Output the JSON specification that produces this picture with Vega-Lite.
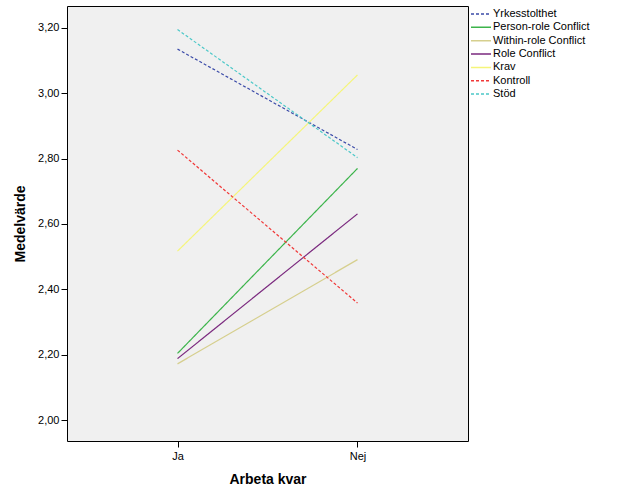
{
  "$schema": "https://vega.github.io/schema/vega-lite/v6.json",
  "width": 401,
  "height": 435,
  "autosize": "none",
  "padding": {"left": 67, "top": 6, "right": 158, "bottom": 60},
  "background": "white",
  "config": {
    "font": "Liberation Sans",
    "view": {"fill": "#F0F0F0", "stroke": "#000000", "strokeWidth": 1},
    "axis": {"grid": false, "domain": false, "tickColor": "#000", "tickSize": 6, "labelColor": "#000", "labelFontSize": 11, "labelFont": "Liberation Sans", "titleFont": "Liberation Sans", "titleFontSize": 14, "titleFontWeight": "bold", "titleColor": "#000"}
  },
  "data": {
    "values": [
      {"grupp": "Ja", "serie": "Yrkesstolthet", "varde": 3.135},
      {"grupp": "Nej", "serie": "Yrkesstolthet", "varde": 2.828},
      {"grupp": "Ja", "serie": "Person-role Conflict", "varde": 2.204},
      {"grupp": "Nej", "serie": "Person-role Conflict", "varde": 2.770},
      {"grupp": "Ja", "serie": "Within-role Conflict", "varde": 2.172},
      {"grupp": "Nej", "serie": "Within-role Conflict", "varde": 2.491},
      {"grupp": "Ja", "serie": "Role Conflict", "varde": 2.188},
      {"grupp": "Nej", "serie": "Role Conflict", "varde": 2.631},
      {"grupp": "Ja", "serie": "Krav", "varde": 2.517},
      {"grupp": "Nej", "serie": "Krav", "varde": 3.056},
      {"grupp": "Ja", "serie": "Kontroll", "varde": 2.826},
      {"grupp": "Nej", "serie": "Kontroll", "varde": 2.358},
      {"grupp": "Ja", "serie": "Stöd", "varde": 3.195},
      {"grupp": "Nej", "serie": "Stöd", "varde": 2.803}
    ]
  },
  "mark": {"type": "line", "strokeWidth": 1.2},
  "encoding": {
    "x": {
      "field": "grupp", "type": "nominal", "title": "Arbeta kvar",
      "scale": {"type": "point", "padding": 0.614},
      "axis": {"labelAngle": 0, "titlePadding": 11, "labelPadding": 3}
    },
    "y": {
      "field": "varde", "type": "quantitative", "title": "Medelvärde",
      "scale": {"domain": [1.936, 3.267], "nice": false, "zero": false},
      "axis": {"values": [2.0, 2.2, 2.4, 2.6, 2.8, 3.0, 3.2], "labelExpr": "replace(format(datum.value, '.2f'), '.', ',')", "titlePadding": 10, "labelPadding": 2}
    },
    "color": {
      "field": "serie", "type": "nominal", "title": null,
      "scale": {
        "domain": ["Yrkesstolthet", "Person-role Conflict", "Within-role Conflict", "Role Conflict", "Krav", "Kontroll", "Stöd"],
        "range": ["#3B4BA8", "#3CB44B", "#D6CF8E", "#7B2A7F", "#F5F57A", "#F03838", "#4CC8C8"]
      },
      "legend": {"orient": "none", "legendX": 408, "legendY": 2, "symbolType": "M-2,0H2", "symbolSize": 100, "symbolStrokeWidth": 1.5, "labelFontSize": 11, "labelColor": "#000", "labelFont": "Liberation Sans", "rowPadding": 2.35, "labelOffset": 6, "padding": 0}
    },
    "strokeDash": {
      "field": "serie", "type": "nominal", "title": null,
      "scale": {
        "domain": ["Yrkesstolthet", "Person-role Conflict", "Within-role Conflict", "Role Conflict", "Krav", "Kontroll", "Stöd"],
        "range": [[3, 2], [1, 0], [1, 0], [1, 0], [1, 0], [3, 2], [3, 2]]
      }
    }
  }
}
